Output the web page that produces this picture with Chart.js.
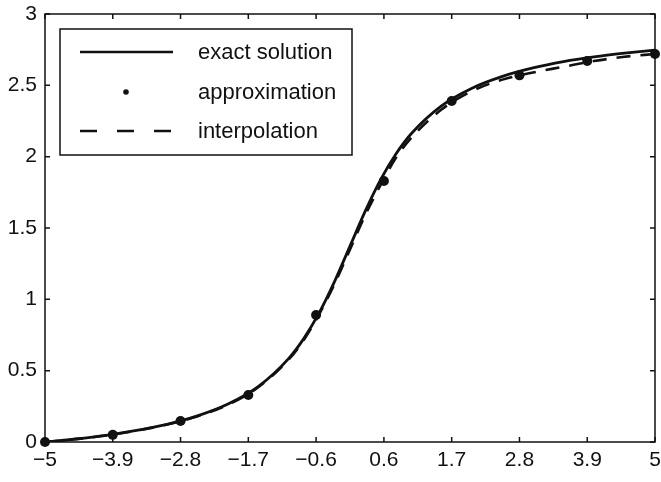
<!DOCTYPE html>
<html>
<head>
<meta charset="utf-8">
<script src="https://cdn.jsdelivr.net/npm/chart.js@4.4.1/dist/chart.umd.min.js"></script>
<style>
  html, body { margin: 0; padding: 0; background: #fff; }
  #wrap { width: 661px; height: 482px; }
</style>
</head>
<body>
<div id="wrap"><canvas id="myChart" width="661" height="482"></canvas></div>
<script>
// nodes of the approximation (x ticks sit on them)
var xNodes = [-5, -3.889, -2.778, -1.667, -0.556, 0.556, 1.667, 2.778, 3.889, 5];
var xTickLabels = ['\u22125', '\u22123.9', '\u22122.8', '\u22121.7', '\u22120.6', '0.6', '1.7', '2.8', '3.9', '5'];
var approxValues = [0, 0.05, 0.147, 0.33, 0.89, 1.83, 2.39, 2.57, 2.67, 2.72];

// curves
var curveX = [-5, -4.5, -4, -3.5, -3, -2.5, -2, -1.5, -1, -0.75, -0.5, -0.25, 0, 0.25, 0.5, 0.75, 1, 1.5, 2, 2.5, 3, 3.5, 4, 4.5, 5];
var exactValues = [0, 0.021, 0.047, 0.081, 0.124, 0.183, 0.266, 0.390, 0.588, 0.730, 0.910, 1.128, 1.373, 1.618, 1.837, 2.017, 2.159, 2.356, 2.480, 2.563, 2.622, 2.666, 2.699, 2.725, 2.747];
var interpValues = [0, 0.02, 0.045, 0.08, 0.122, 0.18, 0.262, 0.385, 0.58, 0.72, 0.9, 1.11, 1.35, 1.59, 1.80, 1.99, 2.13, 2.33, 2.46, 2.54, 2.59, 2.63, 2.67, 2.70, 2.72];

var yTicks = [0, 0.5, 1, 1.5, 2, 2.5, 3];
var legendLabels = ['exact solution', 'approximation', 'interpolation'];

function pts(xs, ys) {
    return xs.map(function(x, i) { return { x: x, y: ys[i] }; });
}

var FONT = '"Liberation Sans", Arial, Helvetica, sans-serif';
var INK = '#111';

// box round the plot with inward ticks, and the legend inside it
var boxPlugin = {
    id: 'box',
    afterDatasetsDraw: function(chart) {
        var ctx = chart.ctx;
        var a = chart.chartArea;
        var xs = chart.scales.x, ys = chart.scales.y;
        ctx.save();
        ctx.strokeStyle = INK;
        ctx.lineWidth = 1.5;
        ctx.strokeRect(a.left, a.top, a.right - a.left, a.bottom - a.top);
        ctx.beginPath();
        xNodes.forEach(function(v) {
            var px = xs.getPixelForValue(v);
            ctx.moveTo(px, a.bottom); ctx.lineTo(px, a.bottom - 5);
            ctx.moveTo(px, a.top); ctx.lineTo(px, a.top + 5);
        });
        yTicks.forEach(function(v) {
            var py = ys.getPixelForValue(v);
            ctx.moveTo(a.left, py); ctx.lineTo(a.left + 5, py);
            ctx.moveTo(a.right, py); ctx.lineTo(a.right - 5, py);
        });
        ctx.stroke();

        // legend
        var lx = 60, ly = 29, lw = 292, lh = 126;
        ctx.fillStyle = '#fff';
        ctx.fillRect(lx, ly, lw, lh);
        ctx.lineWidth = 1.5;
        ctx.strokeRect(lx, ly, lw, lh);
        var rows = [52, 92, 131];
        ctx.font = '22px ' + FONT;
        ctx.textBaseline = 'middle';
        ctx.textAlign = 'left';
        rows.forEach(function(ry, i) {
            ctx.strokeStyle = INK;
            ctx.lineWidth = 2.6;
            if (i === 0) {
                ctx.setLineDash([]);
                ctx.beginPath(); ctx.moveTo(80, ry); ctx.lineTo(173, ry); ctx.stroke();
            } else if (i === 1) {
                ctx.fillStyle = INK;
                ctx.beginPath(); ctx.arc(126, ry, 2.8, 0, Math.PI * 2); ctx.fill();
            } else {
                ctx.setLineDash([17, 20]);
                ctx.beginPath(); ctx.moveTo(80, ry); ctx.lineTo(173, ry); ctx.stroke();
                ctx.setLineDash([]);
            }
            ctx.fillStyle = INK;
            ctx.fillText(legendLabels[i], 198, ry + 1);
        });
        ctx.restore();
    }
};

var ctx = document.getElementById('myChart').getContext('2d');
var myChart = new Chart(ctx, {
    type: 'scatter',
    data: {
        datasets: [{
            label: legendLabels[1],
            data: pts(xNodes, approxValues),
            showLine: false,
            clip: false,
            pointRadius: 5,
            pointBackgroundColor: INK,
            pointBorderColor: INK,
            pointBorderWidth: 0
        }, {
            label: legendLabels[0],
            data: pts(curveX, exactValues),
            showLine: true,
            borderColor: INK,
            borderWidth: 2.8,
            pointRadius: 0,
            cubicInterpolationMode: 'monotone'
        }, {
            label: legendLabels[2],
            data: pts(curveX, interpValues),
            showLine: true,
            borderColor: INK,
            borderWidth: 2.6,
            borderDash: [14, 10],
            pointRadius: 0,
            cubicInterpolationMode: 'monotone'
        }]
    },
    options: {
        responsive: false,
        animation: false,
        layout: { padding: { top: 14, right: 6, left: 0, bottom: 0 } },
        plugins: { legend: { display: false }, tooltip: { enabled: false } },
        scales: {
            x: {
                type: 'linear',
                min: -5,
                max: 5,
                afterBuildTicks: function(scale) {
                    scale.ticks = xNodes.map(function(v) { return { value: v }; });
                },
                afterFit: function(scale) {
                    scale.height = 40;
                    scale.paddingLeft = 0;
                    scale.paddingRight = 0;
                },
                grid: { display: false, drawTicks: false },
                border: { display: false },
                ticks: {
                    autoSkip: false,
                    maxRotation: 0,
                    padding: 6,
                    color: INK,
                    font: { family: FONT, size: 21 },
                    callback: function(value, index) { return xTickLabels[index]; }
                }
            },
            y: {
                min: 0,
                max: 3,
                afterBuildTicks: function(scale) {
                    scale.ticks = yTicks.map(function(v) { return { value: v }; });
                },
                afterFit: function(scale) {
                    scale.width = 45;
                    scale.paddingTop = 0;
                    scale.paddingBottom = 0;
                },
                grid: { display: false, drawTicks: false },
                border: { display: false },
                ticks: {
                    padding: 8,
                    color: INK,
                    font: { family: FONT, size: 21 },
                    callback: function(value) { return String(value); }
                }
            }
        }
    },
    plugins: [boxPlugin]
});
</script>
</body>
</html>
